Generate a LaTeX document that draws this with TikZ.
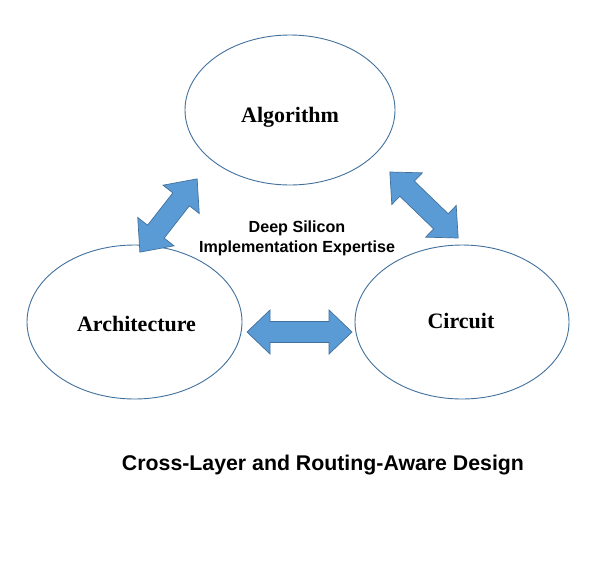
\documentclass[tikz,border=0pt]{standalone}
\usepackage{fontspec}
\setsansfont{Liberation Sans}
\newfontfamily\lblserif{Liberation Serif}
\usetikzlibrary{shapes.geometric}
\definecolor{edgeblue}{HTML}{41719C}
\definecolor{fillblue}{HTML}{5B9BD5}
\tikzset{
  layer/.style={draw=edgeblue, line width=0.9pt, ellipse, fill=white, inner sep=0pt},
  lbl/.style={font=\lblserif\bfseries\fontsize{22}{24}\selectfont, text=black},
  sanslbl/.style={font=\sffamily\bfseries\fontsize{16.1}{20}\selectfont, align=center, text=black},
  titlelbl/.style={font=\sffamily\bfseries\fontsize{21.3}{24}\selectfont, text=black},
  dblarrow/.style={draw=edgeblue, fill=fillblue, line width=0.7pt, line join=miter}
}
\newcommand{\dblarrowshape}[5]{% center, angle, half length, head len, head half width
  \begin{scope}[shift={#1}, rotate=#2]
    \draw[dblarrow] (-#3,0) -- (-#3+#4,#5) -- (-#3+#4,10.5) -- (#3-#4,10.5) -- (#3-#4,#5)
      -- (#3,0) -- (#3-#4,-#5) -- (#3-#4,-10.5) -- (-#3+#4,-10.5) -- (-#3+#4,-#5) -- cycle;
  \end{scope}}
\begin{document}
\begin{tikzpicture}[x=1pt,y=-1pt]
\useasboundingbox[fill=white] (0,0) rectangle (596,568);
\node[layer, minimum width=210pt, minimum height=150pt] (algE) at (290,110) {};
\node[layer, minimum width=215pt, minimum height=154pt] (archE) at (134.5,322) {};
\node[layer, minimum width=214pt, minimum height=154pt] (circE) at (462,322) {};
\node[lbl] (alg) at (290,117) {Algorithm};
\node[lbl] (arch) at (136.5,324) {Architecture};
\node[lbl] (circ) at (461,321) {Circuit};
\node[sanslbl] (deep) at (297,238) {Deep Silicon\\Implementation Expertise};
\node[titlelbl] (title) at (323,465) {Cross-Layer and Routing-Aware Design};
\dblarrowshape{(168.5,215.5)}{52}{46.5}{26}{23}
\dblarrowshape{(424,205)}{-44}{47.5}{24}{22}
\dblarrowshape{(299.5,332)}{0}{52.5}{23}{22}
\end{tikzpicture}
\end{document}
